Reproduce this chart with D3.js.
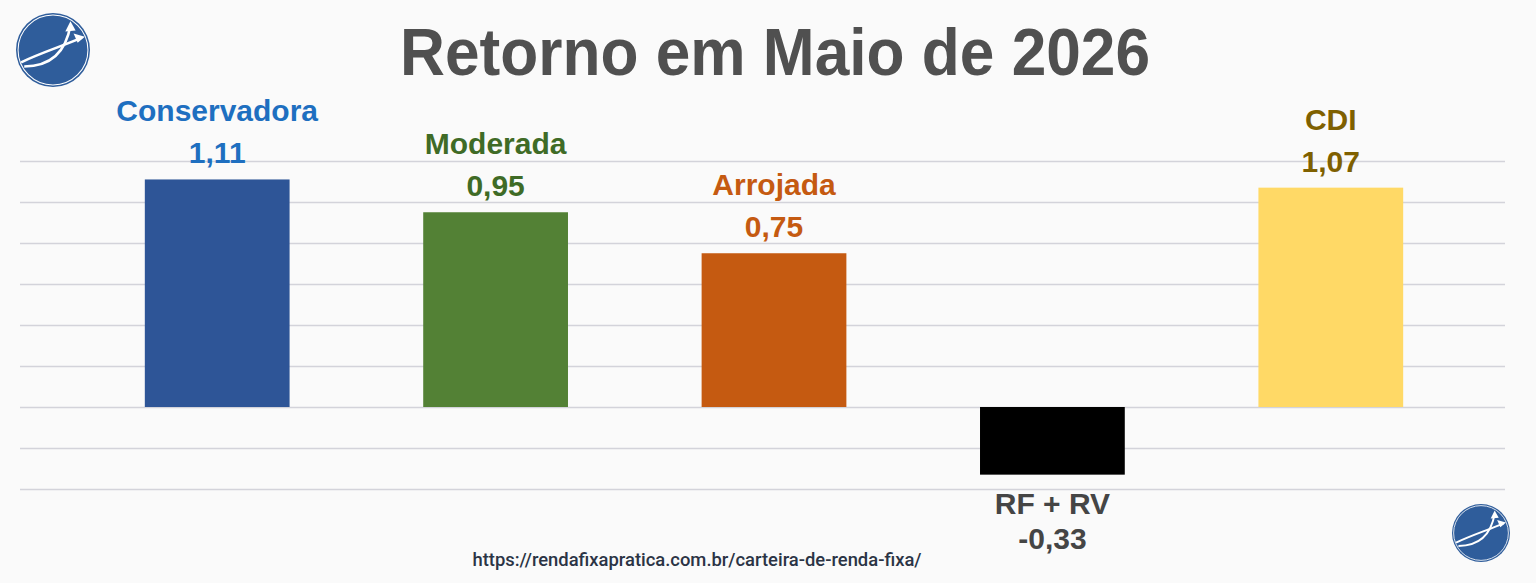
<!DOCTYPE html>
<html><head><meta charset="utf-8">
<script src="https://cdn.jsdelivr.net/npm/d3@7"></script>
<style>html,body{margin:0;padding:0;background:#fafafa;}svg{display:block;}</style>
</head><body>
<script>
const categories = ["Conservadora","Moderada","Arrojada","RF + RV","CDI"];
const values = [1.11, 0.95, 0.75, -0.33, 1.07];
const valueLabels = ["1,11","0,95","0,75","-0,33","1,07"];
const barColors = ["#2e5597","#538135","#c55a11","#000000","#ffd966"];
const labelColors = ["#1e6fc0","#3f6b26","#c55a11","#454545","#7f6000"];
const gridTicks = [-0.4,-0.2,0,0.2,0.4,0.6,0.8,1.0,1.2];
const title = "Retorno em Maio de 2026";
const footer = "https://rendafixapratica.com.br/carteira-de-renda-fixa/";

const W=1536,H=583;
const svg=d3.select("body").append("svg").attr("width",W).attr("height",H);
svg.append("rect").attr("width",W).attr("height",H).attr("fill","#fafafa");

const x=d3.scaleBand().domain(categories).range([78,1470]).paddingInner(0.48).paddingOuter(0.24);
const y=d3.scaleLinear().domain([0,1.1]).range([407,407-1.1*205]);

// gridlines
svg.append("g").selectAll("line").data(gridTicks).join("line")
  .attr("x1",20).attr("x2",1505)
  .attr("y1",d=>Math.round(y(d))+0.5).attr("y2",d=>Math.round(y(d))+0.5)
  .attr("stroke","#d3d3da").attr("stroke-width",1.3);

// bars
svg.append("g").selectAll("rect").data(values).join("rect")
  .attr("x",(d,i)=>x(categories[i]))
  .attr("width",x.bandwidth())
  .attr("y",d=>y(Math.max(0,d)))
  .attr("height",d=>Math.abs(y(d)-y(0)))
  .attr("fill",(d,i)=>barColors[i]);

// labels
const lg=svg.append("g").attr("font-family","'Liberation Sans',Arial,sans-serif").attr("font-weight","bold").attr("font-size",30).attr("text-anchor","middle");
values.forEach((v,i)=>{
  const cx=x(categories[i])+x.bandwidth()/2;
  let yCat,yVal;
  if(v>=0){ yVal=y(v)-16; yCat=yVal-42; }
  else { yCat=y(v)+39; yVal=yCat+35; }
  lg.append("text").attr("x",cx).attr("y",yCat).attr("fill",labelColors[i]).text(categories[i]);
  lg.append("text").attr("x",cx).attr("y",yVal).attr("fill",labelColors[i]).text(valueLabels[i]);
});

// title
svg.append("text").attr("x",775).attr("y",75).attr("text-anchor","middle")
  .attr("font-family","'Liberation Sans',Arial,sans-serif").attr("font-weight","bold")
  .attr("font-size",66).attr("fill","#505050")
  .attr("textLength",750).attr("lengthAdjust","spacingAndGlyphs").text(title);

// footer
svg.append("text").attr("x",697).attr("y",566).attr("text-anchor","middle")
  .attr("font-family","Roboto,sans-serif").attr("font-weight",500)
  .attr("font-size",18.4).attr("fill","#2b3445").text(footer);

// logos
function logo(cx,cy,r){
  const g=svg.append("g").attr("transform",`translate(${cx},${cy}) scale(${r/36})`);
  g.append("circle").attr("r",36).attr("fill","#2f5d9b");
  g.append("circle").attr("r",34).attr("fill","none").attr("stroke","#ffffff").attr("stroke-width",1);
  g.append("path").attr("d","M-31,12 C-10,2 10,-4 28,-12").attr("fill","none").attr("stroke","#fff").attr("stroke-width",2.5);
  g.append("path").attr("d","M-28,16 C-5,16 12,5 17,-24").attr("fill","none").attr("stroke","#fff").attr("stroke-width",2.5);
  g.append("path").attr("d","M17,-28 L12,-18 L22,-19 Z").attr("fill","#fff");
  g.append("path").attr("d","M31,-13 L20,-16 L24,-7 Z").attr("fill","#fff");
}
logo(53,50,37);
logo(1481,533,29);
</script>
</body></html>
